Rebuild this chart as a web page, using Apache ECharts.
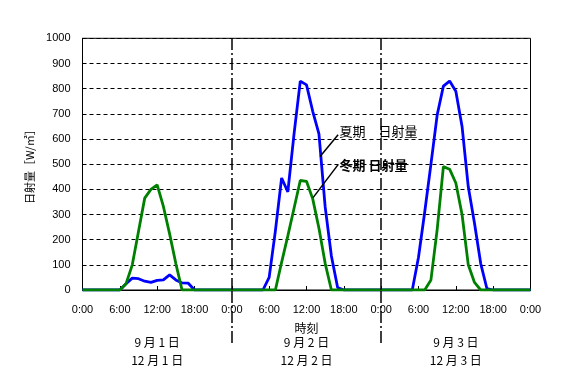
<!DOCTYPE html>
<html>
<head>
<meta charset="utf-8">
<script src="https://cdn.jsdelivr.net/npm/echarts@6/dist/echarts.min.js"></script>
<style>
html,body{margin:0;padding:0;background:#fff;}
#chart{width:578px;height:381px;}
</style>
</head>
<body>
<div id="chart"></div>
<script>
// hour index 0..72 (three days)
const hours = [
  0,1,2,3,4,5,6,7,8,9,10,11,12,13,14,15,16,17,18,19,20,21,22,23,
  24,25,26,27,28,29,30,31,32,33,34,35,36,37,38,39,40,41,42,43,44,45,46,47,
  48,49,50,51,52,53,54,55,56,57,58,59,60,61,62,63,64,65,66,67,68,69,70,71,72
];
// 夏期 日射量 (W/m2)
const summer = [
  0,0,0,0,0,0,0,25,47,45,35,30,38,40,60,40,28,27,0,0,0,0,0,0,
  0,0,0,0,0,0,50,235,445,390,620,830,815,710,620,330,135,10,0,0,0,0,0,0,
  0,0,0,0,0,0,130,310,500,695,810,830,790,650,410,265,105,5,0,0,0,0,0,0,
  0
];
// 冬期 日射量 (W/m2)
const winter = [
  0,0,0,0,0,0,0,25,100,232,365,400,418,332,223,105,0,0,0,0,0,0,0,0,
  0,0,0,0,0,0,0,0,110,215,325,435,432,362,245,106,0,0,0,0,0,0,0,0,
  0,0,0,0,0,0,0,0,40,240,490,480,425,300,100,30,0,0,0,0,0,0,0,0,
  0
];
const dayLabels = ['9 月 1 日\n12 月 1 日', '9 月 2 日\n12 月 2 日', '9 月 3 日\n12 月 3 日'];
const dayDividers = [24, 48];
const summerLabel = '夏期　日射量';
const winterLabel = '冬期 日射量';
// annotation anchor points in data space [hour, value]
const summerLeader = [[41.08, 617], [38.18, 530]];
const winterLeader = [[41.08, 498], [37.06, 367]];
const summerText = [41.3, 633];
const winterText = [41.3, 498];

const pairs = (ys) => hours.map((h, i) => [h, ys[i]]);
const FONT = 'Liberation Sans';
const CJK = 'Noto Sans CJK JP';
const dashDot = { color: '#000', width: 1.5, type: [12, 3, 2, 3] };

const chart = echarts.init(document.getElementById('chart'), null, { renderer: 'canvas' });
chart.setOption({
  animation: false,
  backgroundColor: '#fff',
  grid: [
    { left: 82.5, right: 47.5, top: 38.3, bottom: 91, show: true, borderColor: '#000', borderWidth: 1, backgroundColor: 'transparent', outerBoundsMode: 'none', containLabel: false },
    { left: 82.5, right: 47.5, top: 290, height: 53, show: false, outerBoundsMode: 'none', containLabel: false }
  ],
  xAxis: [
    {
      type: 'value', gridIndex: 0, min: 0, max: 72, interval: 6,
      name: '時刻', nameLocation: 'middle', nameGap: 32,
      nameTextStyle: { color: '#000', fontSize: 12, fontFamily: CJK },
      axisLine: { show: true, lineStyle: { color: '#000', width: 1 } },
      axisTick: { show: true, inside: true, length: 4, lineStyle: { color: '#000' } },
      axisLabel: { color: '#000', fontSize: 11, fontFamily: FONT, margin: 14, formatter: v => (v % 24) + ':00' },
      splitLine: { show: false }
    },
    {
      type: 'category', gridIndex: 0, data: dayLabels, position: 'bottom', boundaryGap: true,
      axisLine: { show: false }, axisTick: { show: false }, splitLine: { show: false },
      axisLabel: { color: '#000', fontSize: 12, fontFamily: CJK, margin: 43, lineHeight: 18, interval: 0 }
    },
    {
      type: 'value', gridIndex: 1, min: 0, max: 72, show: false
    }
  ],
  yAxis: [
    {
      type: 'value', gridIndex: 0, min: 0, max: 1000, interval: 100,
      name: '日射量［W/㎡］', nameLocation: 'middle', nameGap: 46, nameRotate: 90,
      nameTextStyle: { color: '#000', fontSize: 11, fontFamily: CJK },
      axisLine: { show: true, lineStyle: { color: '#000', width: 1 } },
      axisTick: { show: false },
      axisLabel: { color: '#000', fontSize: 11, fontFamily: FONT, margin: 12, formatter: v => String(v) },
      splitLine: { show: true, lineStyle: { color: '#000', width: 1, type: [4, 3] } }
    },
    { type: 'value', gridIndex: 1, min: 0, max: 1, show: false }
  ],
  series: [
    {
      name: summerLabel, type: 'line', xAxisIndex: 0, yAxisIndex: 0,
      data: pairs(summer), symbol: 'none', smooth: false,
      lineStyle: { color: '#0000FF', width: 2.8 },
      z: 3,
      markLine: {
        silent: true, symbol: ['none', 'none'], label: { show: false },
        data: [
          { xAxis: dayDividers[0], lineStyle: dashDot },
          { xAxis: dayDividers[1], lineStyle: dashDot },
          [{ coord: summerLeader[0], lineStyle: { color: '#000', width: 1.5, type: 'solid' } }, { coord: summerLeader[1] }]
        ]
      },
      markPoint: {
        silent: true, symbol: 'circle', symbolSize: 0,
        label: { show: true, position: 'right', distance: 0, color: '#000', fontSize: 13, fontFamily: CJK, formatter: summerLabel },
        data: [{ coord: summerText }]
      }
    },
    {
      name: winterLabel, type: 'line', xAxisIndex: 0, yAxisIndex: 0,
      data: pairs(winter), symbol: 'none', smooth: false,
      lineStyle: { color: '#008000', width: 2.8 },
      z: 4,
      markLine: {
        silent: true, symbol: ['none', 'none'], label: { show: false },
        data: [
          [{ coord: winterLeader[0], lineStyle: { color: '#000', width: 1.5, type: 'solid' } }, { coord: winterLeader[1] }]
        ]
      },
      markPoint: {
        silent: true, symbol: 'circle', symbolSize: 0,
        label: { show: true, position: 'right', distance: 0, color: '#000', fontSize: 13, fontWeight: 'bold', fontFamily: CJK, formatter: winterLabel },
        data: [{ coord: winterText }]
      }
    },
    {
      type: 'line', xAxisIndex: 2, yAxisIndex: 1, silent: true,
      data: [[0, 0], [72, 0]], symbol: 'none', lineStyle: { width: 0, opacity: 0 },
      markLine: {
        silent: true, symbol: ['none', 'none'], label: { show: false },
        data: [
          { xAxis: dayDividers[0], lineStyle: dashDot },
          { xAxis: dayDividers[1], lineStyle: dashDot }
        ]
      }
    }
  ]
});
</script>
</body>
</html>
